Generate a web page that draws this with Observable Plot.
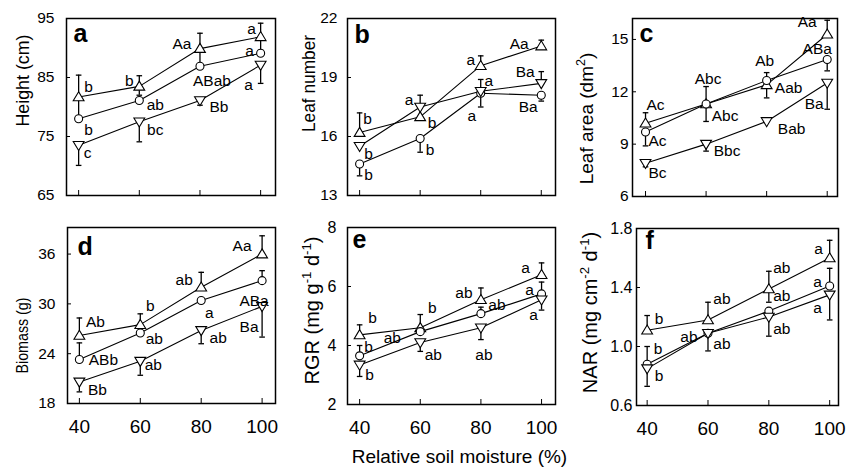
<!DOCTYPE html>
<html>
<head>
<meta charset="utf-8">
<script src="https://cdn.jsdelivr.net/npm/d3@7"></script>
<script src="https://cdn.jsdelivr.net/npm/@observablehq/plot@0.6"></script>
<style>
  html, body { margin: 0; padding: 0; background: #fff; }
  #fig { position: relative; width: 846px; height: 471px; overflow: hidden; font-family: "Liberation Sans", Arial, sans-serif; }
  #fig svg { position: absolute; overflow: visible; }
</style>
</head>
<body>
<div id="fig"></div>
<script>
// ---------------- DATA ----------------
const moisture = [40, 60, 80, 100];

// (a) Height (cm)
const heightUp = [81.7, 83.5, 89.9, 91.9];
const heightUpLo = [78.0, 82.0, 87.1, 89.6];
const heightUpHi = [85.4, 85.3, 92.5, 94.2];
const heightUpTag = ["b", "b", "Aa", "a"];
const heightCircle = [78.0, 81.1, 86.9, 89.1];
const heightCircleLo = [78.0, 81.1, 86.9, 89.1];
const heightCircleHi = [78.0, 81.1, 86.9, 89.1];
const heightCircleTag = ["b", "ab", "ABab", "a"];
const heightDown = [73.5, 77.5, 81.1, 87.1];
const heightDownLo = [70.1, 74.1, 80.3, 84.0];
const heightDownHi = [73.5, 77.5, 81.1, 87.1];
const heightDownTag = ["c", "bc", "Bb", "a"];

// (b) Leaf number
const leafUp = [16.2, 17.0, 19.6, 20.6];
const leafUpLo = [16.2, 17.0, 19.6, 20.6];
const leafUpHi = [17.2, 17.0, 20.1, 20.9];
const leafUpTag = ["b", "b", "a", "Aa"];
const leafCircle = [14.6, 15.9, 18.2, 18.1];
const leafCircleLo = [14.0, 15.2, 17.5, 17.8];
const leafCircleHi = [14.6, 15.9, 18.9, 18.1];
const leafCircleTag = ["b", "b", "a", "Ba"];
const leafDown = [15.5, 17.5, 18.3, 18.7];
const leafDownLo = [15.5, 17.5, 18.3, 18.7];
const leafDownHi = [15.5, 18.1, 18.3, 19.3];
const leafDownTag = ["b", "a", "a", "Ba"];

// (c) Leaf area (dm2)
const areaUp = [10.2, 11.3, 12.4, 15.3];
const areaUpLo = [10.2, 11.3, 11.65, 15.3];
const areaUpHi = [10.8, 12.3, 12.4, 16.1];
const areaUpTag = ["Ac", "Abc", "Aab", "Aa"];
const areaCircle = [9.7, 11.3, 12.65, 13.85];
const areaCircleLo = [8.9, 10.3, 12.65, 13.2];
const areaCircleHi = [9.7, 11.3, 13.1, 13.85];
const areaCircleTag = ["Ac", "Abc", "Ab", "ABa"];
const areaDown = [7.9, 9.0, 10.3, 12.5];
const areaDownLo = [7.7, 8.6, 10.3, 11.0];
const areaDownHi = [7.9, 9.0, 10.3, 12.5];
const areaDownTag = ["Bc", "Bbc", "Bab", "Ba"];

// (d) Biomass (g)
const massUp = [26.2, 27.5, 32.0, 36.0];
const massUpLo = [26.2, 27.5, 32.0, 36.0];
const massUpHi = [28.3, 28.8, 33.8, 38.2];
const massUpTag = ["Ab", "b", "ab", "Aa"];
const massCircle = [23.3, 26.5, 30.4, 32.8];
const massCircleLo = [23.3, 26.5, 30.4, 32.8];
const massCircleHi = [25.3, 26.5, 30.4, 34.0];
const massCircleTag = ["ABb", "ab", "a", "ABa"];
const massDown = [20.6, 23.1, 26.8, 29.7];
const massDownLo = [19.4, 21.4, 25.2, 26.0];
const massDownHi = [20.6, 23.1, 26.8, 29.7];
const massDownTag = ["Bb", "ab", "ab", "Ba"];

// (e) RGR
const rgrUp = [4.36, 4.6, 5.55, 6.4];
const rgrUpLo = [4.36, 4.6, 5.55, 6.4];
const rgrUpHi = [4.7, 5.05, 5.95, 6.8];
const rgrUpTag = ["b", "b", "ab", "a"];
const rgrCircle = [3.65, 4.47, 5.08, 5.75];
const rgrCircleLo = [3.65, 4.47, 5.08, 5.75];
const rgrCircleHi = [4.0, 4.47, 5.3, 6.15];
const rgrCircleTag = ["b", "ab", "ab", "a"];
const rgrDown = [3.34, 4.1, 4.6, 5.55];
const rgrDownLo = [2.95, 3.8, 4.2, 5.2];
const rgrDownHi = [3.34, 4.1, 4.6, 5.55];
const rgrDownTag = ["b", "ab", "ab", "a"];

// (f) NAR
const narUp = [1.11, 1.18, 1.39, 1.60];
const narUpLo = [1.11, 1.18, 1.30, 1.60];
const narUpHi = [1.21, 1.30, 1.51, 1.72];
const narUpTag = ["b", "ab", "ab", "a"];
const narCircle = [0.88, 1.09, 1.24, 1.41];
const narCircleLo = [0.88, 0.97, 1.24, 1.41];
const narCircleHi = [1.0, 1.09, 1.24, 1.53];
const narCircleTag = ["b", "ab", "ab", "a"];
const narDown = [0.85, 1.09, 1.20, 1.35];
const narDownLo = [0.73, 1.09, 1.07, 1.18];
const narDownHi = [0.85, 1.09, 1.20, 1.35];
const narDownTag = ["b", "ab", "ab", "a"];

// y tick labels
const heightTicks = [65, 75, 85, 95];
const leafTicks = [13, 16, 19, 22];
const areaTicks = [6, 9, 12, 15];
const massTicks = [18, 24, 30, 36];
const rgrTicks = [2, 4, 6, 8];
const narTicks = [0.6, 1.0, 1.4, 1.8];

// ---------------- LAYOUT (label offsets in px: [dx, dy]) ----------------
const off = {
  aUp: [[10, -10], [-10, -5], [-18, -5], [-9, -8]],
  aCircle: [[10, 11], [16, 5], [12, 15], [-11, -2]],
  aDown: [[9, 8], [16, 8], [19, 7], [-12, 20]],
  bUp: [[8, -14], [12, 6], [-10, -6], [-22, -2]],
  bCircle: [[9, 11], [10, 12], [-9, 23], [-13, 12]],
  bDown: [[9, 8], [-11, -7], [8, -10], [-16, -11]],
  cUp: [[10, -18], [2, -25], [22, 3], [-20, -12]],
  cCircle: [[12, 9], [19, 12], [-2, -19], [-10, -10]],
  cDown: [[12, 10], [21, 7], [25, 8], [-13, 21]],
  dUp: [[16, -13], [10, -19], [-17, -7], [-20, -8]],
  dCircle: [[24, 1], [14, 6], [8, 12], [-8, 20]],
  dDown: [[18, 8], [13, 4], [17, 8], [-13, 21]],
  eUp: [[13, -17], [12, -20], [-17, -7], [-16, -7]],
  eCircle: [[9, -9], [-28, 6], [16, -9], [-12, -4]],
  eDown: [[10, 10], [13, 12], [3, 27], [-8, 15]],
  fUp: [[12, -11], [14, -21], [13, -21], [-11, -9]],
  fCircle: [[11, -15], [14, 11], [13, -15], [-12, -4]],
  fDown: [[12, 7], [-19, 4], [13, 12], [-12, 13]]
};

// symbols
const triUp = {draw(ctx, size) { const r = Math.sqrt(size / Math.PI);
  ctx.moveTo(0, -1.3 * r); ctx.lineTo(1.35 * r, 0.95 * r); ctx.lineTo(-1.35 * r, 0.95 * r); ctx.closePath(); }};
const triDown = {draw(ctx, size) { const r = Math.sqrt(size / Math.PI);
  ctx.moveTo(0, 1.3 * r); ctx.lineTo(1.35 * r, -0.95 * r); ctx.lineTo(-1.35 * r, -0.95 * r); ctx.closePath(); }};
const capSym = {draw(ctx, size) { const r = Math.sqrt(size / Math.PI); ctx.moveTo(-r, 0); ctx.lineTo(r, 0); }};

function rows(ys, lo, hi, tags) {
  return moisture.map((x, i) => ({x, y: ys[i], lo: lo[i], hi: hi[i], tag: tags[i]}));
}
function trio(key, up, upLo, upHi, upTag, ci, ciLo, ciHi, ciTag, dn, dnLo, dnHi, dnTag) {
  return [
    {symbol: triUp, rows: rows(up, upLo, upHi, upTag), offsets: off[key + "Up"]},
    {symbol: "circle", rows: rows(ci, ciLo, ciHi, ciTag), offsets: off[key + "Circle"]},
    {symbol: triDown, rows: rows(dn, dnLo, dnHi, dnTag), offsets: off[key + "Down"]}
  ];
}

const intFmt = d3.format("d");
const panels = [
  {key: "a", left: 66, right: 275, top: 18, bottom: 195, xDomain: [36.0, 104.9], yDomain: [65, 95], yTicks: heightTicks,
   tickPad: 12, tickFont: 15.5, fmt: intFmt, title: "Height (cm)", titleFont: 18, titleLen: 92, titleX: 23, titleY: 80, letterDx: 7, letterDy: 6, showX: false,
   series: trio("a", heightUp, heightUpLo, heightUpHi, heightUpTag, heightCircle, heightCircleLo, heightCircleHi, heightCircleTag, heightDown, heightDownLo, heightDownHi, heightDownTag)},
  {key: "b", left: 347, right: 555, top: 18, bottom: 195, xDomain: [36.0, 104.7], yDomain: [13, 22], yTicks: leafTicks,
   tickPad: 10, tickFont: 15.5, fmt: intFmt, title: "Leaf number", titleFont: 17.5, titleLen: 97, titleX: 309, titleY: 83, letterDx: 7, letterDy: 7, showX: false,
   series: trio("b", leafUp, leafUpLo, leafUpHi, leafUpTag, leafCircle, leafCircleLo, leafCircleHi, leafCircleTag, leafDown, leafDownLo, leafDownHi, leafDownTag)},
  {key: "c", left: 632, right: 837, top: 18, bottom: 196, xDomain: [35.7, 103.4], yDomain: [6, 16.2], yTicks: areaTicks,
   tickPad: 4, tickFont: 15.5, fmt: intFmt, title: "Leaf area (dm^{2})", titleFont: 19, titleLen: 0, titleX: 586, titleY: 118, letterDx: 7, letterDy: 6, showX: false,
   series: trio("c", areaUp, areaUpLo, areaUpHi, areaUpTag, areaCircle, areaCircleLo, areaCircleHi, areaCircleTag, areaDown, areaDownLo, areaDownHi, areaDownTag)},
  {key: "d", left: 67, right: 275, top: 227, bottom: 403, xDomain: [36.1, 104.4], yDomain: [18, 39.2], yTicks: massTicks,
   tickPad: 12, tickFont: 15.5, fmt: intFmt, title: "Biomass (g)", titleFont: 16.5, titleLen: 76, titleX: 22, titleY: 335, letterDx: 10, letterDy: 10, showX: true,
   series: trio("d", massUp, massUpLo, massUpHi, massUpTag, massCircle, massCircleLo, massCircleHi, massCircleTag, massDown, massDownLo, massDownHi, massDownTag)},
  {key: "e", left: 347, right: 555, top: 227, bottom: 404, xDomain: [36.0, 104.6], yDomain: [2, 8], yTicks: rgrTicks,
   tickPad: 11, tickFont: 16, fmt: intFmt, title: "RGR (mg g^{-1} d^{-1})", titleFont: 20, titleLen: 0, titleX: 312, titleY: 310, letterDx: 5, letterDy: 3, showX: true,
   xTitle: "Relative soil moisture (%)",
   series: trio("e", rgrUp, rgrUpLo, rgrUpHi, rgrUpTag, rgrCircle, rgrCircleLo, rgrCircleHi, rgrCircleTag, rgrDown, rgrDownLo, rgrDownHi, rgrDownTag)},
  {key: "f", left: 636, right: 838, top: 228, bottom: 405, xDomain: [36.5, 102.9], yDomain: [0.6, 1.8], yTicks: narTicks,
   tickPad: 4, tickFont: 16, fmt: d3.format(".1f"), title: "NAR (mg cm^{-2} d^{-1})", titleFont: 20, titleLen: 0, titleX: 590, titleY: 312, letterDx: 9, letterDy: 3, showX: true,
   series: trio("f", narUp, narUpLo, narUpHi, narUpTag, narCircle, narCircleLo, narCircleHi, narCircleTag, narDown, narDownLo, narDownHi, narDownTag)}
];

const fig = document.getElementById("fig");
const M = {l: 90, r: 20, t: 12, b: 75};

function fixTitle(svg, p) {
  const NS = "http://www.w3.org/2000/svg";
  const fs = p.titleFont;
  svg.querySelectorAll("text").forEach(el => {
    const t = el.textContent;
    if (t !== p.title) return;
    if (p.titleLen) {
      el.setAttribute("textLength", p.titleLen);
      el.setAttribute("lengthAdjust", "spacingAndGlyphs");
    }
    if (!t.includes("^{")) return;
    const parts = t.split(/\^\{([^}]*)\}/);
    el.textContent = "";
    let shifted = false;
    parts.forEach((part, i) => {
      if (!part) return;
      const ts = document.createElementNS(NS, "tspan");
      ts.textContent = part;
      if (i % 2 === 1) {
        ts.setAttribute("dy", (-0.42 * fs).toFixed(2));
        ts.setAttribute("font-size", (0.66 * fs).toFixed(2));
        shifted = true;
      } else if (shifted) {
        ts.setAttribute("dy", (0.42 * fs).toFixed(2));
        shifted = false;
      }
      el.appendChild(ts);
    });
  });
}

panels.forEach(p => {
  const fw = p.right - p.left, fh = p.bottom - p.top;
  const marks = [];
  // inward ticks
  marks.push(Plot.ruleX(moisture, {x: d => d, insetTop: fh - 5, stroke: "black", strokeWidth: 1}));
  marks.push(Plot.ruleY(p.yTicks, {y: d => d, insetRight: fw - 4, stroke: "black", strokeWidth: 1}));
  marks.push(Plot.axisY({ticks: p.yTicks, tickSize: 0, tickPadding: p.tickPad, tickFormat: p.fmt, fontSize: p.tickFont, label: null}));
  if (p.showX) marks.push(Plot.axisX({ticks: moisture, tickSize: 0, tickPadding: 16, tickFormat: intFmt, fontSize: 19, label: null}));
  p.series.forEach(s => marks.push(Plot.line(s.rows, {x: "x", y: "y", stroke: "black", strokeWidth: 1.1})));
  p.series.forEach(s => {
    const bars = s.rows.filter(d => d.hi > d.lo);
    marks.push(Plot.ruleX(bars, {x: "x", y1: "lo", y2: "hi", stroke: "black", strokeWidth: 1.3}));
    const caps = [];
    s.rows.forEach(d => {
      if (d.lo < d.y) caps.push({x: d.x, v: d.lo});
      if (d.hi > d.y) caps.push({x: d.x, v: d.hi});
    });
    marks.push(Plot.dot(caps, {x: "x", y: "v", symbol: capSym, r: 2.8, fill: "none", stroke: "black", strokeWidth: 1.3}));
  });
  p.series.forEach(s => marks.push(Plot.dot(s.rows, {x: "x", y: "y", symbol: s.symbol, r: 4, fill: "white", stroke: "black", strokeWidth: 1.1})));
  p.series.forEach(s => s.rows.forEach((d, i) => {
    marks.push(Plot.text([d], {x: "x", y: "y", text: "tag", dx: s.offsets[i][0], dy: s.offsets[i][1], fontSize: 15.5, fill: "black"}));
  }));
  marks.push(Plot.frame({stroke: "black", strokeWidth: 1.5}));
  marks.push(Plot.text([p.key], {frameAnchor: "top-left", dx: p.letterDx, dy: p.letterDy, textAnchor: "start", lineAnchor: "top", fontSize: 25, fontWeight: "bold", fill: "black"}));
  marks.push(Plot.text([p.title], {frameAnchor: "left", rotate: -90, textAnchor: "middle", lineAnchor: "middle",
    dx: p.titleX - p.left, dy: p.titleY - (p.top + p.bottom) / 2, fontSize: p.titleFont, fill: "black"}));
  if (p.xTitle) marks.push(Plot.text([p.xTitle], {frameAnchor: "bottom", textAnchor: "middle", lineAnchor: "middle", dx: 8, dy: 52, fontSize: 19, fill: "black"}));

  const svg = Plot.plot({
    width: M.l + fw + M.r,
    height: M.t + fh + M.b,
    marginLeft: M.l, marginRight: M.r, marginTop: M.t, marginBottom: M.b,
    x: {domain: p.xDomain, axis: null},
    y: {domain: p.yDomain, axis: null},
    style: {background: "none", overflow: "visible", fontFamily: "'Liberation Sans', Arial, sans-serif", color: "black"},
    marks
  });
  svg.style.left = (p.left - M.l) + "px";
  svg.style.top = (p.top - M.t) + "px";
  svg.style.maxWidth = "none";
  fixTitle(svg, p);
  fig.appendChild(svg);
});
</script>
</body>
</html>
